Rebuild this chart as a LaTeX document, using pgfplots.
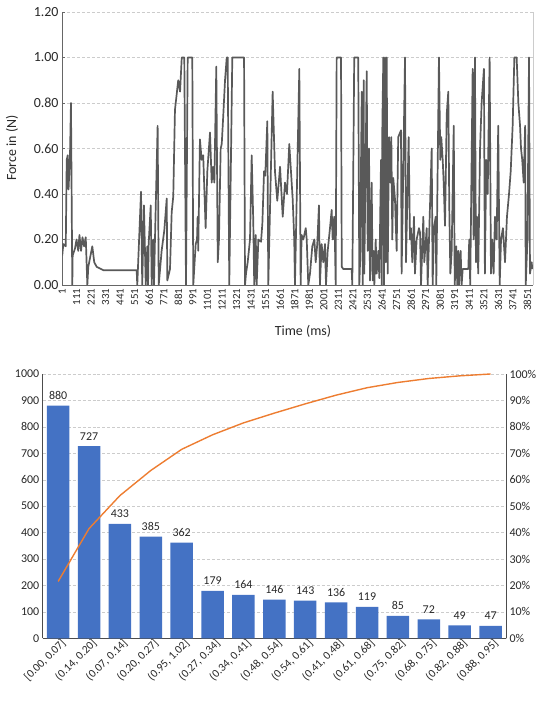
\documentclass[border=0pt]{standalone}
\usepackage{pgfplots}
\pgfplotsset{compat=1.18}
\usepackage{fontspec}
\setmainfont{Carlito}
\definecolor{lineg}{RGB}{89,89,89}
\definecolor{xlblue}{RGB}{68,114,196}
\definecolor{xlorange}{RGB}{237,125,49}
\definecolor{txt}{RGB}{40,40,40}
\begin{document}
\begin{tikzpicture}
\useasboundingbox (0,0) rectangle (550bp,707bp);
% ---------------- top: force vs time ----------------
\begin{axis}[
  at={(62bp,422bp)}, anchor=south west, scale only axis,
  width=471bp, height=273bp,
  xmin=1, xmax=3887, ymin=0, ymax=1.2,
  axis x line*=bottom, axis y line*=left,
  axis line style={draw=black!60, line width=0.8bp, -},
  /pgf/number format/assume math mode=true,
  /pgf/number format/fixed, /pgf/number format/fixed zerofill, /pgf/number format/precision=2,
  ytick={0,0.2,0.4,0.6,0.8,1.0,1.2},
  yticklabel style={font=\fontsize{14}{16}\selectfont, text=txt},
  ymajorgrids, grid style={densely dashed, black!20},
  ytick style={draw=black!60}, major tick length=3bp,
  xtick={1,121,...,3841},
  xticklabels={1,111,221,331,441,551,661,771,881,991,1101,1211,1321,1431,1551,1661,1871,1981,2001,2311,2421,2531,2641,2751,2861,2971,3081,3191,3411,3521,3631,3741,3851},
  xticklabel style={rotate=90, anchor=east, font=\fontsize{11}{12}\selectfont, text=txt},
  xtick style={draw=none},
]
\addplot[lineg, line width=1.7bp, line join=round] coordinates {
(3,0.13)(12,0.18)(32,0.17)(40,0.55)(48,0.57)(55,0.42)(67,0.57)(75,0.80)(86,0)(89,0.13)(108,0.16)(121,0.20)(135,0.15)(145,0.22)(158,0.15)(170,0.21)(183,0.17)(197,0.21)(210,0)(218,0.08)(251,0.17)(267,0.10)(287,0.08)(342,0.065)(617,0.065)(622,0)(653,0.41)(663,0)(677,0.35)(692,0)(705,0.17)(711,0)(716,0.18)(733,0.35)(741,0)(754,0.20)(760,0)(768,0.20)(790,0.70)(799,0)(823,0.15)(845,0.24)(865,0.38)(870,0.02)(892,0.07)(906,0.32)(919,0.39)(933,0.77)(960,0.90)(975,0.85)(989,1.00)(1010,1.00)(1024,0)(1038,1.00)(1076,1.00)(1084,0)(1104,0.18)(1115,0.20)(1120,0.30)(1125,0.15)(1139,0.64)(1153,0.55)(1166,0.57)(1186,0.25)(1200,0.50)(1222,0.67)(1236,0.45)(1247,0.52)(1258,0.45)(1274,0.96)(1286,0.10)(1296,0.20)(1310,0.60)(1319,0.62)(1332,0.75)(1346,0.90)(1360,1.00)(1368,1.00)(1381,0)(1406,1.00)(1503,1.00)(1511,0)(1519,0.05)(1533,0.10)(1552,0.20)(1566,0.57)(1579,0.28)(1587,0)(1599,0.22)(1607,0)(1621,0.20)(1643,0.19)(1654,0.27)(1668,0.50)(1678,0.48)(1695,0.72)(1703,0)(1739,0.85)(1758,0.50)(1777,0.37)(1800,0.52)(1822,0.30)(1841,0.45)(1857,0.40)(1876,0.62)(1904,0.38)(1917,0.20)(1923,0)(1959,0.95)(1970,0)(1978,0.22)(1992,0.20)(2012,0.25)(2020,0.20)(2033,0)(2047,0.05)(2066,0.17)(2083,0.20)(2094,0.10)(2107,0.18)(2121,0.35)(2129,0)(2143,0.18)(2157,0.10)(2171,0.18)(2179,0)(2193,0.15)(2212,0.25)(2226,0.33)(2234,0.20)(2247,0.30)(2253,0.18)(2259,0)(2267,1.00)(2303,1.00)(2309,0.08)(2322,0.07)(2391,0.07)(2396,0)(2412,1.00)(2445,1.00)(2454,0)(2460,0.10)(2474,0.85)(2482,0)(2490,0.90)(2495,0.05)(2515,0.94)(2523,0.15)(2534,0.60)(2542,0.02)(2556,0.45)(2564,0.02)(2573,0.15)(2578,0)(2589,0.20)(2597,0.05)(2611,0.15)(2619,0.03)(2633,0.55)(2639,0)(2644,0.70)(2652,1.00)(2658,0)(2666,1.00)(2672,0.10)(2680,1.00)(2688,0.05)(2699,0.65)(2710,0.45)(2718,0.65)(2726,0.20)(2734,0.47)(2748,0.38)(2762,0.15)(2775,0.65)(2798,0.68)(2803,0.05)(2831,1.00)(2839,0.10)(2861,0.65)(2872,0.20)(2880,0.25)(2891,0.10)(2905,0.30)(2913,0.05)(2927,0.20)(2946,0.25)(2955,0.23)(2963,0)(2982,0.30)(2990,0.10)(3010,0.25)(3018,0)(3029,0.20)(3051,0.60)(3059,0)(3070,0.25)(3084,0.30)(3089,0)(3111,1.00)(3122,0.55)(3130,0.65)(3142,0.55)(3150,0.45)(3161,0.26)(3175,0.75)(3188,0.85)(3196,0.35)(3205,0.05)(3216,0.15)(3233,0.70)(3241,0)(3254,0.17)(3262,0)(3271,0.15)(3276,0)(3290,0.15)(3298,0)(3307,0.07)(3353,0.07)(3361,0.20)(3369,0)(3389,0.95)(3397,0.20)(3408,1.00)(3416,0.10)(3424,0.30)(3435,0.05)(3450,0.60)(3463,0.80)(3482,0.95)(3490,0.05)(3501,0.55)(3513,0.40)(3529,1.00)(3540,0.05)(3551,0.20)(3562,0.05)(3573,0.30)(3587,0.20)(3600,0.70)(3612,0)(3623,0.20)(3639,0.25)(3656,0.10)(3672,0.30)(3689,0.40)(3703,0.50)(3719,0.70)(3733,1.00)(3752,1.00)(3766,0.80)(3780,0.70)(3788,0.60)(3798,0.55)(3810,0.45)(3822,0.70)(3827,0)(3841,0.20)(3854,1.00)(3862,0.05)(3876,0.10)(3881,0.07)
};
\end{axis}
\draw[black!20, line width=0.6bp] (533bp,422bp) -- (533bp,695bp);
\node[rotate=90, font=\fontsize{14}{16}\selectfont, text=txt] at (12bp,559bp) {Force in (N)};
\node[font=\fontsize{14}{16}\selectfont, text=txt] at (303bp,376bp) {Time (ms)};
% ---------------- bottom: Pareto ----------------
\begin{axis}[
  at={(42.7bp,68.7bp)}, anchor=south west, scale only axis,
  width=463.3bp, height=264.3bp,
  xmin=-0.5, xmax=14.5, ymin=0, ymax=1000,
  axis x line*=bottom, axis y line*=left,
  axis line style={draw=black!70, line width=0.8bp, -},
  /pgf/number format/assume math mode=true,
  /pgf/number format/1000 sep={},
  ytick={0,100,...,1000},
  yticklabel style={font=\fontsize{12}{14}\selectfont, text=txt},
  ymajorgrids, grid style={densely dashed, black!20},
  major tick length=0pt,
  xtick={0,...,14},
  xticklabels={{[0.00, 0.07]},{(0.14, 0.20]},{(0.07, 0.14]},{(0.20, 0.27]},{(0.95, 1.02]},{(0.27, 0.34]},{(0.34, 0.41]},{(0.48, 0.54]},{(0.54, 0.61]},{(0.41, 0.48]},{(0.61, 0.68]},{(0.75, 0.82]},{(0.68, 0.75]},{(0.82, 0.88]},{(0.88, 0.95]}},
  xticklabel style={rotate=45, anchor=north east, font=\fontsize{11.5}{12}\selectfont, text=txt, xshift=3bp, inner sep=1pt},
  ybar, bar width=22.5bp,
  nodes near coords,
  nodes near coords style={font=\fontsize{12}{14}\selectfont, text=txt, yshift=2.5bp},
]
\addplot[fill=xlblue, draw=none] coordinates {
(0,880)(1,727)(2,433)(3,385)(4,362)(5,179)(6,164)(7,146)(8,143)(9,136)(10,119)(11,85)(12,72)(13,49)(14,47)
};
\end{axis}
\begin{axis}[
  at={(42.7bp,68.7bp)}, anchor=south west, scale only axis,
  width=463.3bp, height=264.3bp,
  xmin=-0.5, xmax=14.5, ymin=0, ymax=100,
  axis x line=none, axis y line*=right,
  axis line style={draw=black!70, line width=0.8bp, -},
  /pgf/number format/assume math mode=true,
  ytick={0,10,...,100},
  yticklabel={\pgfmathprintnumber{\tick}\%},
  yticklabel style={font=\fontsize{12}{14}\selectfont, text=txt},
  major tick length=0pt,
]
\addplot[xlorange, line width=1.4bp, line join=round] coordinates {
(0,21.5)(1,41.5)(2,54)(3,63.5)(4,71.5)(5,77)(6,81.5)(7,85.2)(8,88.7)(9,92)(10,94.8)(11,96.8)(12,98.3)(13,99.3)(14,100)
};
\end{axis}
\end{tikzpicture}
\end{document}
